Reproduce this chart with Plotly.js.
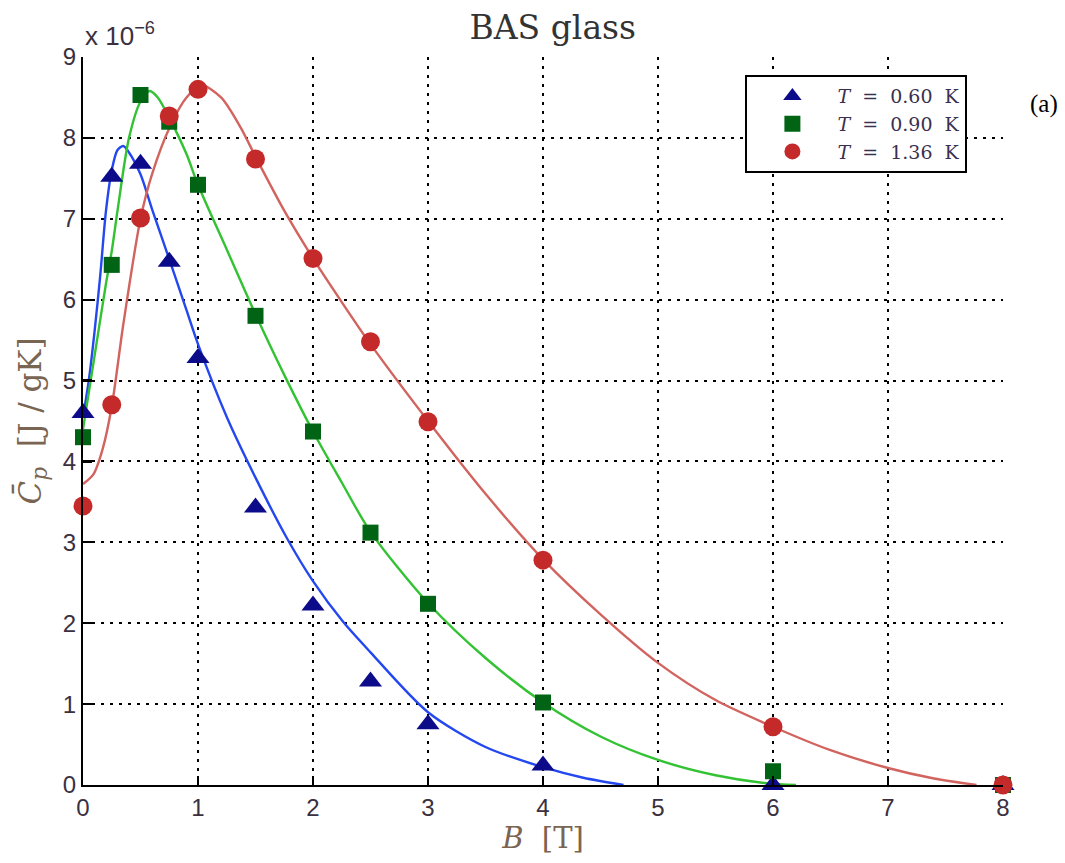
<!DOCTYPE html>
<html>
<head>
<meta charset="utf-8">
<script src="https://cdn.plot.ly/plotly-3.0.1.min.js"></script>
<style>html,body{margin:0;padding:0;background:#fff;}#chart{width:1065px;height:863px;}</style>
</head>
<body>
<div id="chart"></div>
<script>
// Measured data (B in tesla, Cp in 1e-6 J/gK)
const B_meas = [0, 0.25, 0.5, 0.75, 1, 1.5, 2, 2.5, 3, 4, 6, 8];
const cp_060 = [4.60, 7.52, 7.68, 6.47, 5.28, 3.43, 2.22, 1.28, 0.75, 0.24, 0.0, 0.0];
const cp_090 = [4.30, 6.43, 8.53, 8.20, 7.42, 5.80, 4.37, 3.12, 2.24, 1.02, 0.17, 0.0];
const cp_136 = [3.45, 4.70, 7.01, 8.27, 8.60, 7.74, 6.51, 5.48, 4.49, 2.78, 0.72, 0.0];

// Fitted curves
const fit060_B = [0, 0.05, 0.1, 0.15, 0.2, 0.25, 0.3, 0.35, 0.4, 0.5, 0.6, 0.75, 0.9, 1.0, 1.25, 1.5, 1.77, 2.0, 2.26, 2.5, 3.0, 3.5, 4.0, 4.35, 4.7];
const fit060_C = [4.55, 5.0, 5.6, 6.3, 7.1, 7.6, 7.85, 7.9, 7.82, 7.55, 7.12, 6.5, 5.87, 5.45, 4.55, 3.8, 3.06, 2.52, 2.02, 1.64, 0.9, 0.47, 0.22, 0.09, 0.0];
const fit090_B = [0, 0.1, 0.2, 0.25, 0.3, 0.4, 0.5, 0.58, 0.65, 0.76, 0.9, 1.0, 1.25, 1.5, 1.75, 2.0, 2.25, 2.5, 3.0, 3.5, 4.0, 4.5, 5.0, 5.5, 5.95, 6.2];
const fit090_C = [4.4, 5.3, 6.2, 6.6, 7.1, 8.0, 8.45, 8.58, 8.5, 8.22, 7.8, 7.42, 6.62, 5.82, 5.07, 4.37, 3.74, 3.13, 2.25, 1.57, 1.02, 0.6, 0.31, 0.12, 0.02, 0.0];
const fit136_B = [0, 0.09, 0.17, 0.25, 0.35, 0.5, 0.6, 0.76, 0.9, 1.03, 1.2, 1.37, 1.51, 1.75, 2.0, 2.25, 2.5, 3.0, 3.5, 4.0, 4.5, 5.0, 5.5, 6.0, 6.5, 7.0, 7.4, 7.77];
const fit136_C = [3.72, 3.84, 4.15, 4.68, 5.69, 7.0, 7.55, 8.15, 8.5, 8.65, 8.5, 8.13, 7.74, 7.1, 6.51, 5.97, 5.45, 4.5, 3.6, 2.79, 2.11, 1.51, 1.05, 0.72, 0.43, 0.21, 0.08, 0.0];

const legendNames = ['<i>T</i>  =  0.60  K', '<i>T</i>  =  0.90  K', '<i>T</i>  =  1.36  K'];
const xTicks = [0, 1, 2, 3, 4, 5, 6, 7, 8];
const yTicks = [0, 1, 2, 3, 4, 5, 6, 7, 8, 9];

const traces = [
  {x: fit060_B, y: fit060_C, mode: 'lines', line: {color: '#2448f0', width: 2.4, shape: 'spline', smoothing: 0.8}, showlegend: false, hoverinfo: 'skip', cliponaxis: false},
  {x: fit090_B, y: fit090_C, mode: 'lines', line: {color: '#33c233', width: 2.4, shape: 'spline', smoothing: 0.8}, showlegend: false, hoverinfo: 'skip', cliponaxis: false},
  {x: fit136_B, y: fit136_C, mode: 'lines', line: {color: '#d2645f', width: 2.4, shape: 'spline', smoothing: 0.8}, showlegend: false, hoverinfo: 'skip', cliponaxis: false},
  {x: B_meas, y: cp_060, mode: 'markers', name: legendNames[0], marker: {symbol: 'triangle-up', size: 20, color: '#0c0c8a'}, cliponaxis: false},
  {x: B_meas, y: cp_090, mode: 'markers', name: legendNames[1], marker: {symbol: 'square', size: 16, color: '#006414'}, cliponaxis: false},
  {x: B_meas, y: cp_136, mode: 'markers', name: legendNames[2], marker: {symbol: 'circle', size: 19, color: '#c42a2a'}, cliponaxis: false}
];

const axisCommon = {
  showline: true, linecolor: '#000', linewidth: 2.2,
  ticks: 'inside', ticklen: 9, tickwidth: 2.2, tickcolor: '#000',
  showgrid: true, gridcolor: '#000', gridwidth: 2, griddash: '3px,6px',
  zeroline: false, mirror: false,
  tickfont: {family: 'Liberation Sans Narrow, Liberation Sans, Arial, sans-serif', size: 24, color: '#3a3040'}
};

const layout = {
  width: 1065, height: 863,
  margin: {l: 83, r: 62, t: 57, b: 78},
  paper_bgcolor: '#fff', plot_bgcolor: '#fff',
  title: {text: 'BAS glass', x: 0.519, xanchor: 'center', y: 0.968, yanchor: 'middle',
          font: {family: 'DejaVu Serif, Liberation Serif, serif', size: 33, color: '#333'}},
  xaxis: Object.assign({}, axisCommon, {
    range: [0, 8], tickvals: xTicks, ticktext: xTicks.map(String),
    title: {text: '<i>B</i>  [T]', standoff: 8, font: {family: 'DejaVu Serif, Liberation Serif, serif', size: 29, color: '#7a6452'}}
  }),
  yaxis: Object.assign({}, axisCommon, {
    range: [0, 9], tickvals: yTicks, ticktext: yTicks.map(String),
    title: {text: '<i>C̄</i><sub><i>p</i></sub>  [J / gK]', standoff: 12, font: {family: 'DejaVu Serif, Liberation Serif, serif', size: 31, color: '#7a6452'}}
  }),
  legend: {
    x: 0.72, xanchor: 'left', y: 0.975, yanchor: 'top',
    bgcolor: '#fff', bordercolor: '#000', borderwidth: 2,
    font: {family: 'DejaVu Serif, Liberation Serif, serif', size: 19, color: '#3a3050'},
    itemwidth: 80, tracegroupgap: 0
  },
  annotations: [
    {text: 'x 10<sup>−6</sup>', xref: 'paper', yref: 'paper', x: 0.0, xanchor: 'left', y: 1.005, yanchor: 'bottom', showarrow: false,
     font: {family: 'Liberation Sans, Arial, sans-serif', size: 26, color: '#3a3040'}},
    {text: '(a)', xref: 'paper', yref: 'paper', x: 1.027, xanchor: 'left', y: 0.935, yanchor: 'middle', showarrow: false,
     font: {family: 'Liberation Serif, Times New Roman, serif', size: 25, color: '#000'}}
  ]
};

Plotly.newPlot('chart', traces, layout, {displayModeBar: false, staticPlot: true});
</script>
</body>
</html>
